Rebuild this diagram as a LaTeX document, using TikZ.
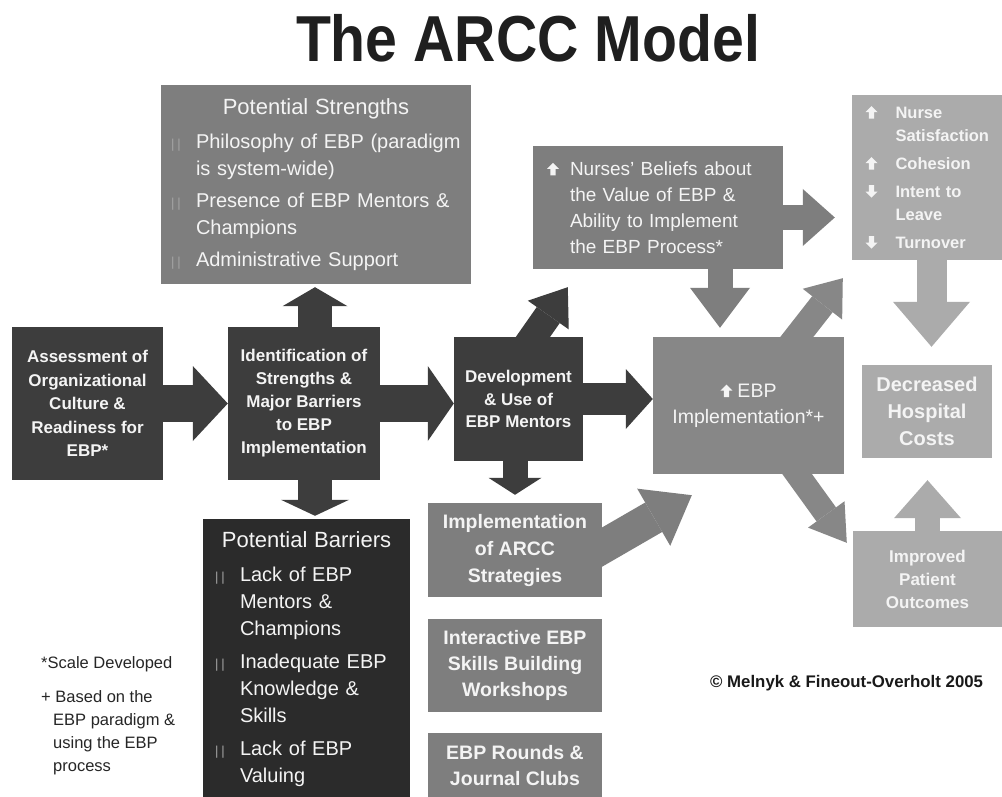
\documentclass[tikz,border=0pt]{standalone}
\usepackage{fontspec}
\setmainfont{Liberation Sans}
\usepackage{graphicx}
\usepackage{xcolor}
\usetikzlibrary{arrows.meta}

\definecolor{arccdark}{HTML}{3D3D3D}
\definecolor{arccblack}{HTML}{2B2B2B}
\definecolor{arccmid}{HTML}{7E7E7E}
\definecolor{arccmidb}{HTML}{878787}
\definecolor{arcclight}{HTML}{ABABAB}
\definecolor{arcctext}{HTML}{F4F4F4}
\definecolor{arccbar}{HTML}{A4A4A4}

\newcommand{\fs}[2]{\fontsize{#1}{#2}\selectfont}
\newcommand{\bul}{\makebox[25pt][l]{\textcolor{arccbar}{\fs{13}{13}|\hspace{3pt}|}}}
\newcommand{\ind}[1]{\hspace*{#1}}
\newcommand{\upicon}{\tikz[x=1pt,y=1pt,baseline=0pt]\fill[arcctext] (-2.6,0) -- (2.6,0) -- (2.6,6.5) -- (6,6.5) -- (0,12.5) -- (-6,6.5) -- (-2.6,6.5) -- cycle;}
\newcommand{\downicon}{\tikz[x=1pt,y=1pt,baseline=0pt]\fill[arcctext] (-2.6,12.5) -- (2.6,12.5) -- (2.6,6) -- (6,6) -- (0,0) -- (-6,6) -- (-2.6,6) -- cycle;}

\begin{document}
\begin{tikzpicture}[x=1pt, y=-1pt,
    box/.style={fill=#1, text=arcctext, inner sep=0pt, align=center},
    blk/.style n args={4}{draw=#4, line width=#1, -{Triangle[length=#3, width=#2, line width=0pt]}}]
  \useasboundingbox (0,0) rectangle (1002,797);
  \fill[white] (0,0) rectangle (1002,797);

  \node[font=\bfseries\fs{65}{70}, text=black!88, inner sep=0pt] (title) at (528,38.5) {\scalebox{0.88}[1]{The ARCC Model}};

  % left column
  \node[box=arccdark, minimum width=151pt, minimum height=153pt, font=\bfseries\fs{17}{23.5}] (assess) at (87.5,403.5)
    {Assessment of\\Organizational\\Culture \&\\Readiness for\\EBP*};
  \node[box=arccdark, minimum width=152pt, minimum height=153pt, font=\bfseries\fs{17}{23}] (ident) at (304,403.5)
    {Identification of\\Strengths \&\\Major Barriers\\to EBP\\Implementation};
  \node[box=arccmid, minimum width=310pt, minimum height=199pt, text width=290pt, align=left, font=\fs{20}{27}] (strengths) at (316,184.5)
    {\makebox[290pt][c]{\fs{22}{27}Potential Strengths}\\[7pt]
     \bul Philosophy of EBP (paradigm\\ \ind{25pt}is system-wide)\\[5pt]
     \bul Presence of EBP Mentors \&\\ \ind{25pt}Champions\\[5pt]
     \bul Administrative Support};
  \node[box=arccblack, minimum width=207pt, minimum height=281pt, text width=183pt, align=left, font=\fs{20}{27}] (barriers) at (306.5,659.5)
    {\makebox[183pt][c]{\fs{22}{27}Potential Barriers}\\[7pt]
     \bul Lack of EBP\\ \ind{25pt}Mentors \&\\ \ind{25pt}Champions\\[6pt]
     \bul Inadequate EBP\\ \ind{25pt}Knowledge \&\\ \ind{25pt}Skills\\[6pt]
     \bul Lack of EBP\\ \ind{25pt}Valuing};

  % middle column
  \node[box=arccdark, minimum width=129pt, minimum height=124pt, font=\bfseries\fs{17}{22.5}] (dev) at (518.5,399)
    {Development\\\& Use of\\EBP Mentors};
  \node[box=arccmid, minimum width=174pt, minimum height=94pt, font=\bfseries\fs{19.5}{27}] (arcc) at (515,550)
    {Implementation\\of ARCC\\Strategies};
  \node[box=arccmid, minimum width=174pt, minimum height=93pt, font=\bfseries\fs{19.5}{26}] (inter) at (515,665.5)
    {Interactive EBP\\Skills Building\\Workshops};
  \node[box=arccmid, minimum width=174pt, minimum height=65pt, font=\bfseries\fs{19.5}{26}] (rounds) at (515,765.5)
    {EBP Rounds \&\\Journal Clubs};
  \node[box=arccmid, minimum width=250pt, minimum height=123pt, text width=222pt, align=left, font=\fs{19}{26}] (beliefs) at (658,207.5)
    {\makebox[23pt][l]{\upicon}Nurses' Beliefs about\\ \ind{23pt}the Value of EBP \&\\ \ind{23pt}Ability to Implement\\ \ind{23pt}the EBP Process*};
  \node[box=arccmidb, minimum width=191pt, minimum height=137pt, font=\fs{19.5}{26}] (ebp) at (748.5,405.5)
    {\upicon\hspace{5pt}EBP\\Implementation*+};

  % right column
  \node[box=arcclight, minimum width=153pt, minimum height=165pt, text width=126pt, align=left, font=\bfseries\fs{16.5}{23}] (sat) at (928.5,177.5)
    {\makebox[30pt][l]{\upicon}Nurse\\ \ind{30pt}Satisfaction\\[5pt]
     \makebox[30pt][l]{\upicon}Cohesion\\[5pt]
     \makebox[30pt][l]{\downicon}Intent to\\ \ind{30pt}Leave\\[5pt]
     \makebox[30pt][l]{\downicon}Turnover};
  \node[box=arcclight, minimum width=130pt, minimum height=93pt, font=\bfseries\fs{20}{27}] (dec) at (927,411.5)
    {Decreased\\Hospital\\Costs};
  \node[box=arcclight, minimum width=149pt, minimum height=96pt, font=\bfseries\fs{17}{23}] (improved) at (927.5,579)
    {Improved\\Patient\\Outcomes};

  % notes
  \node[anchor=north west, inner sep=0pt, align=left, font=\fs{16.5}{23}, text=black!85] (notes) at (41,656)
    {*Scale Developed\\[11pt] + Based on the\\ \ind{12pt}EBP paradigm \&\\ \ind{12pt}using the EBP\\ \ind{12pt}process};
  \node[anchor=west, inner sep=0pt, font=\bfseries\fs{16.8}{20}, text=black!90] (copy) at (710,683)
    {\textcopyright{} Melnyk \& Fineout-Overholt 2005};

  % block arrows
  \draw[blk={37pt}{75pt}{35pt}{arccdark}] (assess.east) -- (ident.west);
  \draw[blk={37pt}{75pt}{26pt}{arccdark}] (ident.east) -- (ident.east -| dev.west);
  \draw[blk={34pt}{65pt}{19pt}{arccdark}, shorten >=3pt] ([xshift=11pt]ident.north) -- ([xshift=11pt]ident.north |- strengths.south);
  \draw[blk={34pt}{68pt}{16pt}{arccdark}, shorten >=3pt] ([xshift=11pt]ident.south) -- ([xshift=11pt]ident.south |- barriers.north);
  \draw[blk={32pt}{60pt}{27pt}{arccdark}] (dev.east) -- (dev.east -| ebp.west);
  \draw[blk={28pt}{50pt}{34pt}{arccdark}] ([xshift=7.5pt,yshift=-10pt]dev.north) -- ([xshift=35pt,yshift=-18pt]beliefs.south west);
  \draw[blk={25pt}{53pt}{17pt}{arccdark}, shorten >=8pt] (arcc.north |- dev.south) -- (arcc.north);
  \draw[blk={34pt}{66pt}{44pt}{arccmid}] ([xshift=-10pt,yshift=-2.8pt]arcc.east) -- ([xshift=39pt,yshift=-21pt]ebp.south west);
  \draw[blk={25pt}{57pt}{32pt}{arccmid}, shorten >=17pt] ([yshift=-10pt]beliefs.east) -- ([yshift=-10pt]beliefs.east -| sat.west);
  \draw[blk={25pt}{60pt}{40pt}{arccmid}, shorten >=9pt] ([xshift=62pt]beliefs.south) -- ([xshift=62pt]beliefs.south |- ebp.north);
  \draw[blk={26pt}{50pt}{33pt}{arccmidb}] ([xshift=41pt,yshift=-9.5pt]ebp.north) -- ([xshift=-9pt,yshift=-18pt]sat.south west);
  \draw[blk={24pt}{45pt}{35pt}{arccmidb}] ([xshift=41.5pt,yshift=10pt]ebp.south) -- ([xshift=-6pt,yshift=-12pt]improved.north west);
  \draw[blk={30pt}{77pt}{45pt}{arcclight}, shorten >=18pt] ([xshift=3pt]sat.south) -- ([xshift=3pt]sat.south |- dec.north);
  \draw[blk={25pt}{67pt}{38pt}{arcclight}, shorten >=22pt] (improved.north) -- (improved.north |- dec.south);
\end{tikzpicture}
\end{document}
